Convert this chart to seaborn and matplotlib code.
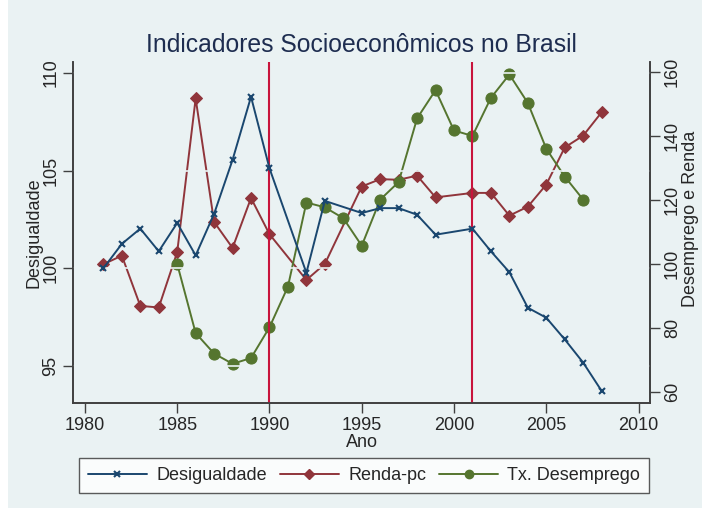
import matplotlib
matplotlib.use("Agg")
import matplotlib.pyplot as plt
import seaborn as sns
from matplotlib.patches import Rectangle

# anos com PNAD (sem 1991, 1994, 2000) para desigualdade e renda
anos_dr = [1981, 1982, 1983, 1984, 1985, 1986, 1987, 1988, 1989, 1990, 1992, 1993,
           1995, 1996, 1997, 1998, 1999, 2001, 2002, 2003, 2004, 2005, 2006, 2007, 2008]
desigualdade = [100.0, 101.25, 102.03, 100.87, 102.32, 100.66, 102.79, 105.55, 108.78,
                105.12, 99.77, 103.45, 102.83, 103.08, 103.08, 102.74, 101.72, 102.03,
                100.87, 99.80, 97.98, 97.47, 96.36, 95.17, 93.72]
renda_pc = [100.0, 102.7, 87.0, 86.5, 103.8, 151.8, 113.2, 105.1, 120.7, 109.4, 95.1,
            100.1, 124.3, 126.6, 126.4, 127.7, 120.9, 122.3, 122.3, 115.2, 118.0, 124.9,
            136.5, 140.2, 147.5]

anos_u = list(range(1985, 2008))
desemprego = [100.1, 78.5, 72.1, 68.9, 70.7, 80.3, 93.0, 119.3, 117.8, 114.4, 105.8,
              120.2, 125.7, 145.6, 154.4, 141.8, 140.1, 152.0, 159.3, 150.4, 136.1,
              127.4, 120.2]

marcos = [1990, 2001]

sns.set_style("ticks")
plt.rcParams["font.family"] = ["Liberation Sans", "DejaVu Sans"]

bg = "#EAF2F3"
navy = "#1A476F"
maroon = "#90353B"
green = "#55752F"
axcol = "#404040"

fig = plt.figure(figsize=(7.02, 5.08), dpi=100, facecolor=bg)
fig.patches.append(Rectangle((0, 0), 8 / 702, 1, transform=fig.transFigure,
                             facecolor="white", edgecolor="none", zorder=0))
ax = fig.add_axes([73.3 / 702, 1 - 402.7 / 508, (650 - 73.3) / 702, 340.7 / 508])
ax2 = ax.twinx()
ax.set_zorder(ax2.get_zorder() + 1)
ax.patch.set_visible(False)
ax2.set_facecolor("white")

for m in marcos:
    ax.axvline(m, color="#C8143C", lw=1.5, zorder=1)

sns.lineplot(x=anos_dr, y=desigualdade, ax=ax, color=navy, lw=1.4, marker="x",
             markersize=5, markeredgewidth=1.5, markeredgecolor=navy,
             legend=False, zorder=3)
sns.lineplot(x=anos_dr, y=renda_pc, ax=ax2, color=maroon, lw=1.4, marker="D",
             markersize=6.5, markeredgecolor=maroon, legend=False)
sns.lineplot(x=anos_u, y=desemprego, ax=ax2, color=green, lw=1.4, marker="o",
             markersize=8, markeredgecolor=green, legend=False)

ax.set_xlim(1979.37, 2010.62)
ax.set_ylim(93.12, 110.56)
ax2.set_ylim(56.75, 163.2)
ax.set_xticks(range(1980, 2011, 5))
ax.set_yticks([95, 100, 105, 110])
ax2.set_yticks(range(60, 161, 20))

ax.grid(axis="y", color=bg, lw=1.2)
ax.set_axisbelow(True)

for a in (ax, ax2):
    a.tick_params(labelsize=13, length=7, width=1, color=axcol, pad=3)
    for s in a.spines.values():
        s.set_color(axcol)
        s.set_linewidth(1.2)
    a.spines["top"].set_visible(False)
ax.tick_params(axis="y", labelrotation=90)
ax2.tick_params(axis="y", labelrotation=90)
for t in ax.get_yticklabels() + ax2.get_yticklabels():
    t.set_va("center")

ax.set_xlabel("Ano", fontsize=13, labelpad=0)
ax.set_ylabel("Desigualdade", fontsize=13)
ax2.set_ylabel("Desemprego e Renda", fontsize=13)
ax.yaxis.set_label_coords(-0.054, 0.5)
ax2.yaxis.set_label_coords(1.055, 0.54)

fig.text(361.7 / 702, 1 - 45 / 508, "Indicadores Socioeconômicos no Brasil",
         ha="center", va="center", fontsize=17.8, color="#1E2D50")

h = [plt.Line2D([], [], color=navy, lw=1.4, marker="x", markersize=4, markeredgewidth=1.5),
     plt.Line2D([], [], color=maroon, lw=1.4, marker="D", markersize=5),
     plt.Line2D([], [], color=green, lw=1.4, marker="o", markersize=6)]
leg = fig.legend(h, ["Desigualdade", "Renda-pc", "Tx. Desemprego"], ncol=3,
                 loc="center", bbox_to_anchor=(364 / 702, 1 - 475.5 / 508),
                 fontsize=13, frameon=True, fancybox=False, edgecolor="#333333",
                 handlelength=3.3, columnspacing=0.7, handletextpad=0.5,
                 borderpad=0.5, borderaxespad=0)
leg.get_frame().set_linewidth(1.0)

fig.savefig("out.png", dpi=100, facecolor=bg)
